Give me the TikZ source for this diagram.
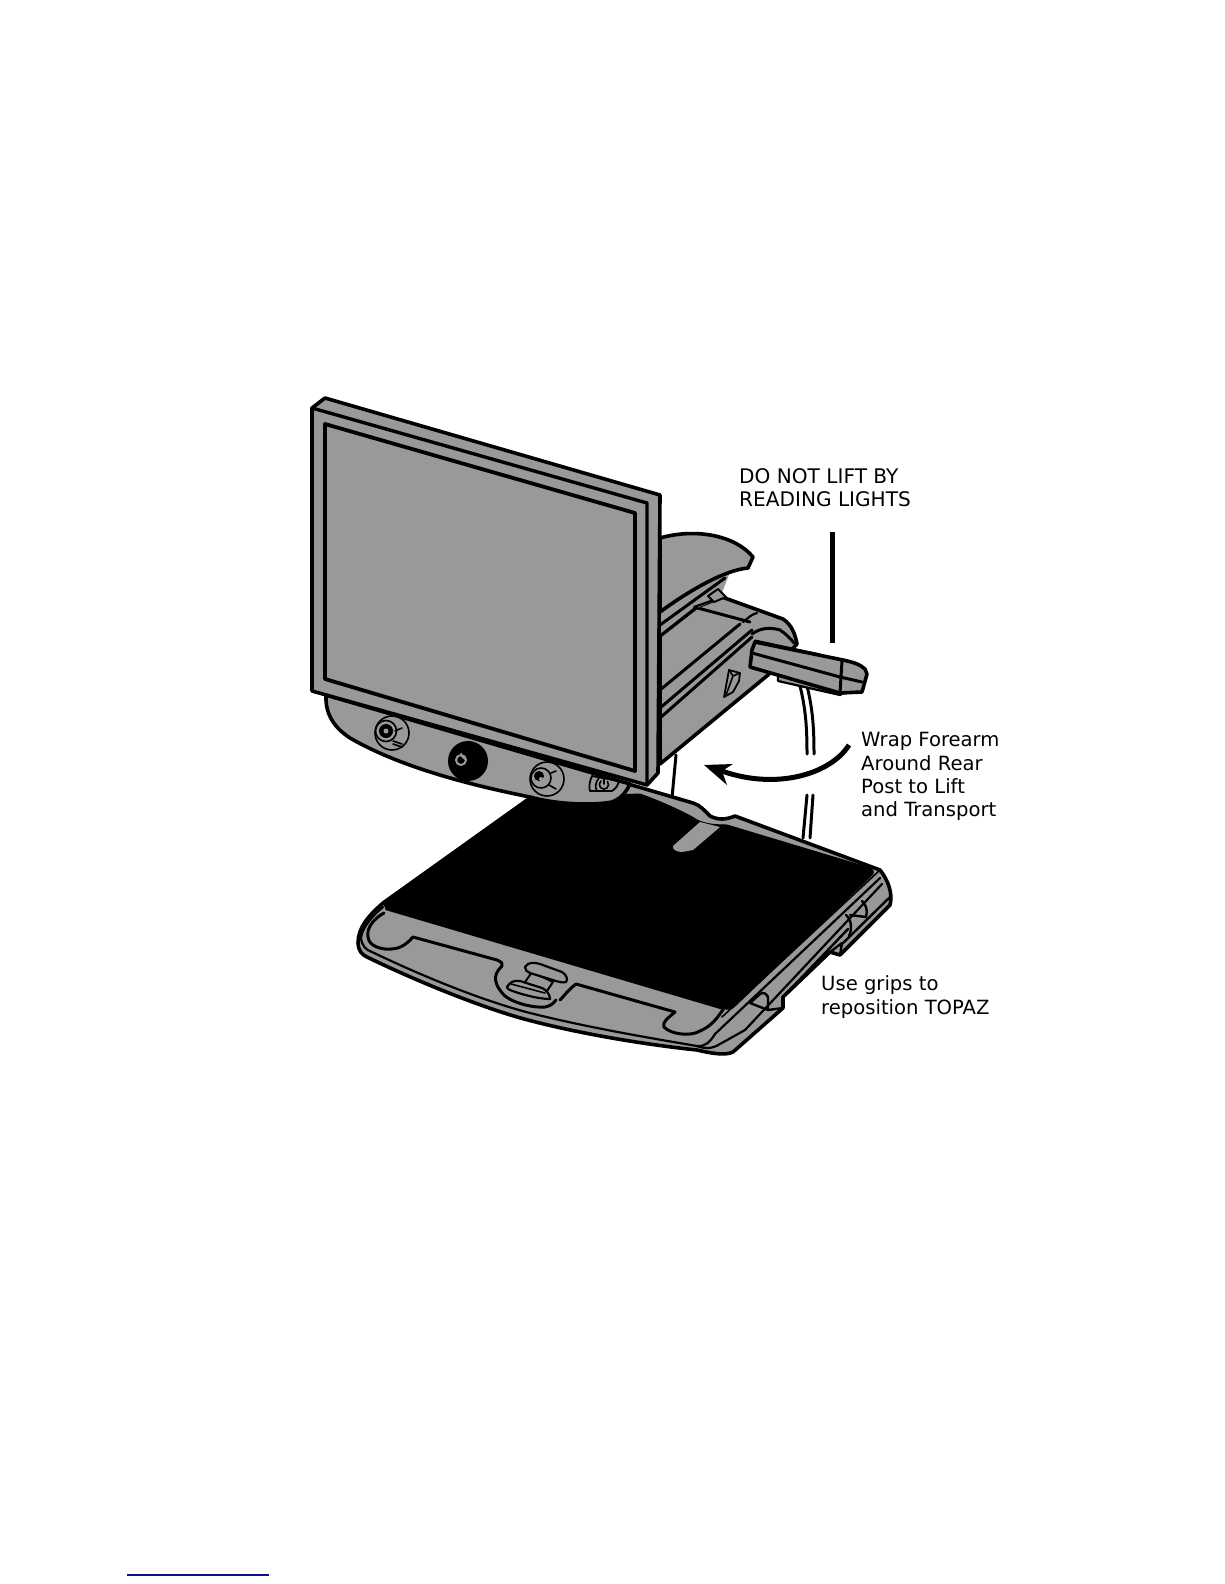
\documentclass[tikz,border=0pt]{standalone}
\usepackage{fontspec}
\setmainfont{DejaVu Sans}
\definecolor{bodygray}{HTML}{999999}
\definecolor{rulenavy}{HTML}{10108A}
\tikzset{
  part/.style={draw=black,fill=bodygray,line width=3.6pt,line join=round,line cap=round},
  edge/.style={draw=black,line width=3pt,line join=round,line cap=round},
  fine/.style={draw=black,line width=1.6pt,line join=round,line cap=round},
  dark/.style={draw=black,fill=black,line width=1pt,line join=round},
  note/.style={align=left,anchor=west,inner sep=0pt,font=\fontsize{19.6}{23.2}\selectfont,text=black},
  capsnote/.style={note,font=\fontsize{20.1}{23.2}\selectfont}
}
\begin{document}
\begin{tikzpicture}[x=1pt,y=-1pt]
\useasboundingbox (0,0) rectangle (1224,1584);
\fill[white] (0,0) rectangle (1224,1584);

% ---------- rear post and cord
\draw[edge] (676,755) -- (672,798);
\draw[edge] (800,686) .. controls (806,710) and (807,730) .. (807,754);
\draw[edge] (807,686) .. controls (813,710) and (814,730) .. (814,754);
\draw[edge] (807,795) -- (803,838);
\draw[edge] (813,795) -- (810,838);

% ---------- base
\draw[part] (383,903) .. controls (368,916) and (358,928) .. (358,943)
  .. controls (358,950) and (362,955) .. (367,957)
  .. controls (410,978) and (470,1003) .. (517,1017)
  .. controls (570,1032) and (640,1044) .. (697,1050)
  .. controls (710,1053) and (725,1056) .. (733,1052)
  -- (783,1008) -- (783,997) -- (830,952) -- (840,955) -- (890,905)
  .. controls (893,893) and (888,880) .. (880,870)
  -- (735,816) .. controls (725,820) and (718,820) .. (710,816)
  .. controls (704,810) and (700,805) .. (693,803)
  -- (625,783) -- (530,798) -- cycle;
% inner outline of the rim
\draw[edge,line width=2.2pt] (383,907) .. controls (372,916) and (362,928) .. (361,938)
  .. controls (362,946) and (366,950) .. (372,952)
  .. controls (420,975) and (480,1000) .. (530,1013)
  .. controls (590,1028) and (650,1038) .. (697,1046)
  .. controls (705,1047) and (710,1042) .. (715,1034)
  -- (880,878);
\draw[edge,line width=2.2pt] (720,1044) -- (745,1030) -- (882,884);
\draw[edge,line width=2.2pt] (697,1046) .. controls (705,1049) and (712,1049) .. (720,1044);
\draw[edge,line width=2.4pt] (783,997) -- (848,929);
\draw[edge,line width=2.4pt] (842,944) -- (891,896);
% grips
\draw[edge,line width=2.4pt] (750,1003) -- (768,1010) -- (768,997) .. controls (766,993) and (763,992) .. (760,994) -- (750,1003);
\draw[edge,line width=2.4pt] (768,1010) -- (783,1008);
\draw[edge,line width=2.4pt] (846,915) .. controls (852,920) and (852,930) .. (849,936);
\draw[edge,line width=2.4pt] (850,915) -- (866,917) .. controls (868,910) and (866,905) .. (862,901);
\draw[edge,line width=2.4pt] (830,952) -- (842,943) -- (840,955);
% tray recess in front of the tablet
\draw[edge] (384,913) .. controls (375,918) and (369,925) .. (368,932)
  .. controls (367,940) and (370,947) .. (385,949)
  .. controls (398,950) and (405,946) .. (413,937)
  -- (497,960)
  .. controls (502,962) and (503,964) .. (502,966)
  .. controls (492,975) and (494,985) .. (505,996)
  .. controls (515,1004) and (535,1008) .. (545,1007)
  .. controls (550,1006) and (553,1004) .. (556,1000);
\draw[edge] (560,1000) .. controls (565,995) and (568,990) .. (576,984)
  -- (675,1012) .. controls (668,1018) and (662,1022) .. (664,1027)
  .. controls (670,1034) and (690,1037) .. (700,1031)
  .. controls (712,1026) and (718,1017) .. (724,1008);
% handle
\draw[part,line width=2pt] (532,972) -- (523,985) -- (547,991) -- (553,982) -- cycle;
\draw[part,line width=2.2pt] (525,967) .. controls (528,962) and (534,962) .. (540,964)
  -- (562,972) .. controls (567,975) and (568,980) .. (566,982)
  .. controls (562,983) and (560,982) .. (556,981)
  -- (530,973) .. controls (527,972) and (525,970) .. (525,967) -- cycle;
\draw[part,line width=2.2pt] (507,987) .. controls (510,982) and (514,980) .. (520,981)
  -- (542,988) .. controls (547,990) and (550,995) .. (550,999)
  .. controls (538,999) and (520,994) .. (510,990)
  .. controls (508,989) and (507,988) .. (507,987) -- cycle;
\draw[fine] (511,984) -- (545,993);

% ---------- black tablet
\path[dark] (383,903) -- (530,798) -- (640,794)
  .. controls (665,803) and (690,815) .. (697,820)
  .. controls (705,824) and (715,825) .. (727,825)
  -- (870,868) .. controls (873,870) and (874,872) .. (873,874)
  -- (735,1006) .. controls (731,1010) and (728,1010) .. (723,1008)
  -- (386,908) -- cycle;
\path[fill=bodygray] (700,822) -- (720,827) -- (693,850) -- (682,852)
  .. controls (676,852) and (672,849) .. (673,846) -- cycle;
\draw[edge,line width=2.2pt] (386,909) -- (724,1009);
\draw[fine] (722,1017) -- (880,870);

% ---------- rear arm and lamp body
\path[part] (660,636) -- (697,607) -- (722,597) -- (783,619)
  .. controls (792,625) and (795,634) .. (797,644)
  -- (768,675) -- (660,764) -- cycle;
\draw[edge] (694,607) -- (750,622);
\draw[edge] (660,690) -- (740,624);
\draw[edge] (660,708) -- (752,630);
\draw[edge] (660,718) -- (752,637);
\draw[edge,line width=2.2pt] (743,622) .. controls (748,618) and (752,614) .. (757,613);
\draw[edge] (752,634) .. controls (760,628) and (770,627) .. (780,630) .. controls (786,634) and (790,638) .. (794,643);
% switch
\draw[fine,line width=1.8pt] (729,670) -- (740,673) -- (739,681) -- (733,692) -- (724,697) -- cycle;
\draw[fine] (729,670) -- (733,676) -- (740,673);
\draw[fine] (733,676) -- (726,695);
% gray web between hood and arm
\path[fill=bodygray] (660,605) -- (730,572) -- (720,598) -- (697,608) -- (660,638) -- cycle;
\draw[edge,line width=2.2pt] (694,607) -- (722,597);
\draw[edge] (660,636) -- (697,607);
% hood of the reading light
\draw[part] (660,538) .. controls (695,528) and (735,535) .. (753,557)
  -- (748,568) .. controls (725,570) and (690,590) .. (660,612) -- cycle;
\draw[edge] (660,625) -- (725,578);
\path[part,line width=2pt] (708,596) -- (718,589) -- (726,597) -- (714,602) -- cycle;

% ---------- reading light
\draw[part,line width=2.2pt] (778,676) -- (778,681) -- (840,695) -- (850,690);
\draw[part] (755,642) -- (843,660)
  .. controls (852,662) and (860,664) .. (865,669)
  -- (867,674) -- (862,692) -- (840,693) -- (750,667)
  -- (752,650) -- cycle;
\draw[edge] (752,653) -- (840,677) -- (862,682);
\draw[edge] (842,661) -- (840,693);
\draw[edge] (755,641) -- (820,655);

% ---------- leader for the reading lights note
\coordinate (leadtop) at (832,532);
\coordinate (leadend) at (832,643);
\draw[draw=black,line width=5pt] (leadtop) -- (leadend);

% ---------- lift arrow
\coordinate (arrowstart) at (849,745);
\coordinate (arrowtip) at (704,765);
\draw[draw=black,line width=5pt] (arrowstart) .. controls (830,775) and (775,790) .. (722,771);
\path[fill=black] (arrowtip) -- (733,764) -- (722,771) -- (727,785) -- cycle;

% ---------- control panel below the screen
\draw[part] (326,695) .. controls (325,715) and (335,728) .. (350,738)
  .. controls (400,767) and (470,785) .. (530,797)
  .. controls (555,804) and (590,806) .. (612,802)
  .. controls (622,798) and (626,792) .. (630,784) -- cycle;
% left knob
\draw[fine] (392,733) circle[radius=17];
\draw[fine] (386,731) circle[radius=10.5];
\fill[black] (386,731) circle[radius=7];
\fill[bodygray] (386,731) circle[radius=2.5];
\draw[fine] (395,731) -- (402,728);
\draw[fine] (393,741) -- (402,744);
\draw[fine] (393,744) -- (402,747);
% centre knob
\fill[black] (468,761) circle[radius=20];
\draw[draw=bodygray,line width=2pt] (461,760) circle[radius=5];
\draw[draw=bodygray,line width=1.4pt] (461,753) arc[start angle=180,end angle=110,radius=7];
% right knob
\draw[fine] (547,779) circle[radius=17];
\draw[fine] (541,778) circle[radius=10];
\fill[black] (539,776) circle[radius=5];
\fill[bodygray] (541,779) circle[radius=2];
\draw[fine] (551,773) -- (556,771);
\draw[fine] (549,785) -- (556,789);
% power key
\draw[fine,line width=1.8pt] (592,776) .. controls (589,782) and (589,788) .. (590,791) -- (612,791)
  .. controls (617,788) and (618,784) .. (619,781) -- cycle;
\draw[fine] (599,778) .. controls (595,782) and (595,788) .. (597,791);
\draw[fine] (601,781) arc[start angle=230,end angle=-40,radius=4.6];
\draw[fine] (604,777) -- (604,784);

% ---------- monitor
\draw[part] (312,408) -- (325,398) -- (660,495) -- (658,773) -- (647,785) -- (312,691) -- cycle;
\draw[edge,line width=3.4pt] (312,408) -- (647,503) -- (647,785);
\draw[edge,line width=3.8pt] (325,424) -- (635,513) -- (635,771) -- (325,679) -- cycle;

% ---------- notes
\node[capsnote] (liftnote) at (739,488) {DO NOT LIFT BY\\READING LIGHTS};
\node[note] (wrapnote) at (861,776.5) {Wrap Forearm\\Around Rear\\Post to Lift\\and Transport};
\node[note] (gripnote) at (821,997) {Use grips to\\reposition TOPAZ};

% ---------- rule at the foot of the page
\coordinate (ruleleft) at (127,1575);
\coordinate (ruleright) at (269,1575);
\draw[draw=rulenavy,line width=1.4pt] (ruleleft) -- (ruleright);
\end{tikzpicture}
\end{document}
